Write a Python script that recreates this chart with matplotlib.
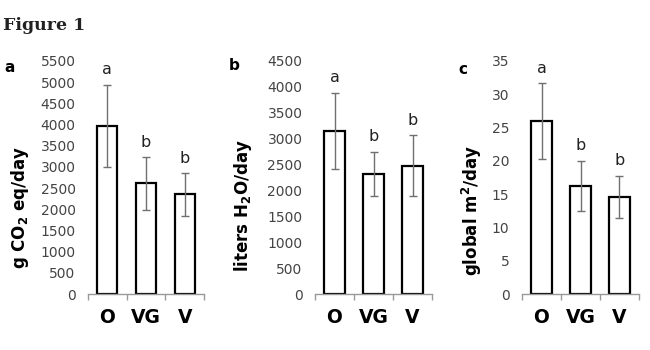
import matplotlib.pyplot as plt
import numpy as np

plt.rcParams['font.family'] = 'DejaVu Sans'
plt.rcParams['mathtext.fontset'] = 'dejavusans'

groups = ['O', 'VG', 'V']

co2 = [3970, 2610, 2350]
co2_err = [970, 620, 500]
co2_sig = ['a', 'b', 'b']

water = [3150, 2320, 2480]
water_err = [735, 430, 590]
water_sig = ['a', 'b', 'b']

land = [26.0, 16.2, 14.6]
land_err = [5.7, 3.8, 3.2]
land_sig = ['a', 'b', 'b']

panels = [
    # values, errors, letters, ymax, ystep, ylabel, panel letter, axes rect (px), label pos, ylabel pos
    (co2, co2_err, co2_sig, 5500, 500, r'g CO$_\mathbf{2}$ eq/day', 'a', (88, 294, 116, 233), (10, 67), (20, 207)),
    (water, water_err, water_sig, 4500, 500, r'liters H$_\mathbf{2}$O/day', 'b', (315, 294, 117, 233), (234, 66), (243, 205)),
    (land, land_err, land_sig, 35, 5, r'global m$^\mathbf{2}$/day', 'c', (522, 294, 117, 233), (463, 69), (472, 210)),
]

W, H = 650, 350
fig = plt.figure(figsize=(W / 100, H / 100), dpi=100)
fig.patch.set_facecolor('white')

fig.text(3 / W, 1 - 25 / H, 'Figure 1', family='DejaVu Serif', weight='bold',
         fontsize=12.5, color='#222222', va='center', ha='left')

for vals, errs, sig, ymax, ystep, ylab, letter, (x0, y0, w, h), lpos, ypos in panels:
    ax = fig.add_axes([x0 / W, 1 - y0 / H, w / W, h / H])
    x = np.arange(len(groups))
    ax.bar(x, vals, width=0.52, color='white', edgecolor='black', linewidth=1.6, zorder=2)
    ax.errorbar(x, vals, yerr=errs, fmt='none', ecolor='#707070', elinewidth=1,
                capsize=3, capthick=1, zorder=3)
    for xi, v, e, s in zip(x, vals, errs, sig):
        ax.annotate(s, (xi, v + e), xytext=(0, 7.5), textcoords='offset points',
                    ha='center', va='baseline', fontsize=11.5, color='#222222')
    ax.set_xlim(-0.5, len(groups) - 0.5)
    ax.set_ylim(0, ymax)
    ax.set_yticks(np.arange(0, ymax + ystep / 2, ystep))
    ax.set_xticks(x)
    ax.set_xticklabels(groups, fontsize=13.5, weight='bold', color='black')
    ax.set_xticks(np.arange(-0.5, len(groups)), minor=True)
    ax.tick_params(axis='x', which='major', length=0, pad=10)
    ax.tick_params(axis='x', which='minor', length=4, width=1, color='#999999', direction='out')
    ax.tick_params(axis='y', length=0, pad=9, labelsize=10, labelcolor='#444444')
    for side in ['top', 'right', 'left']:
        ax.spines[side].set_visible(False)
    ax.spines['bottom'].set_color('#999999')
    ax.spines['bottom'].set_linewidth(1)
    fig.text(lpos[0] / W, 1 - lpos[1] / H, letter, weight='bold', fontsize=11,
             ha='center', va='center', color='black')
    fig.text(ypos[0] / W, 1 - ypos[1] / H, ylab, weight='bold', fontsize=12,
             rotation=90, ha='center', va='center', color='black')

fig.savefig('out.png', dpi=100, facecolor='white')
